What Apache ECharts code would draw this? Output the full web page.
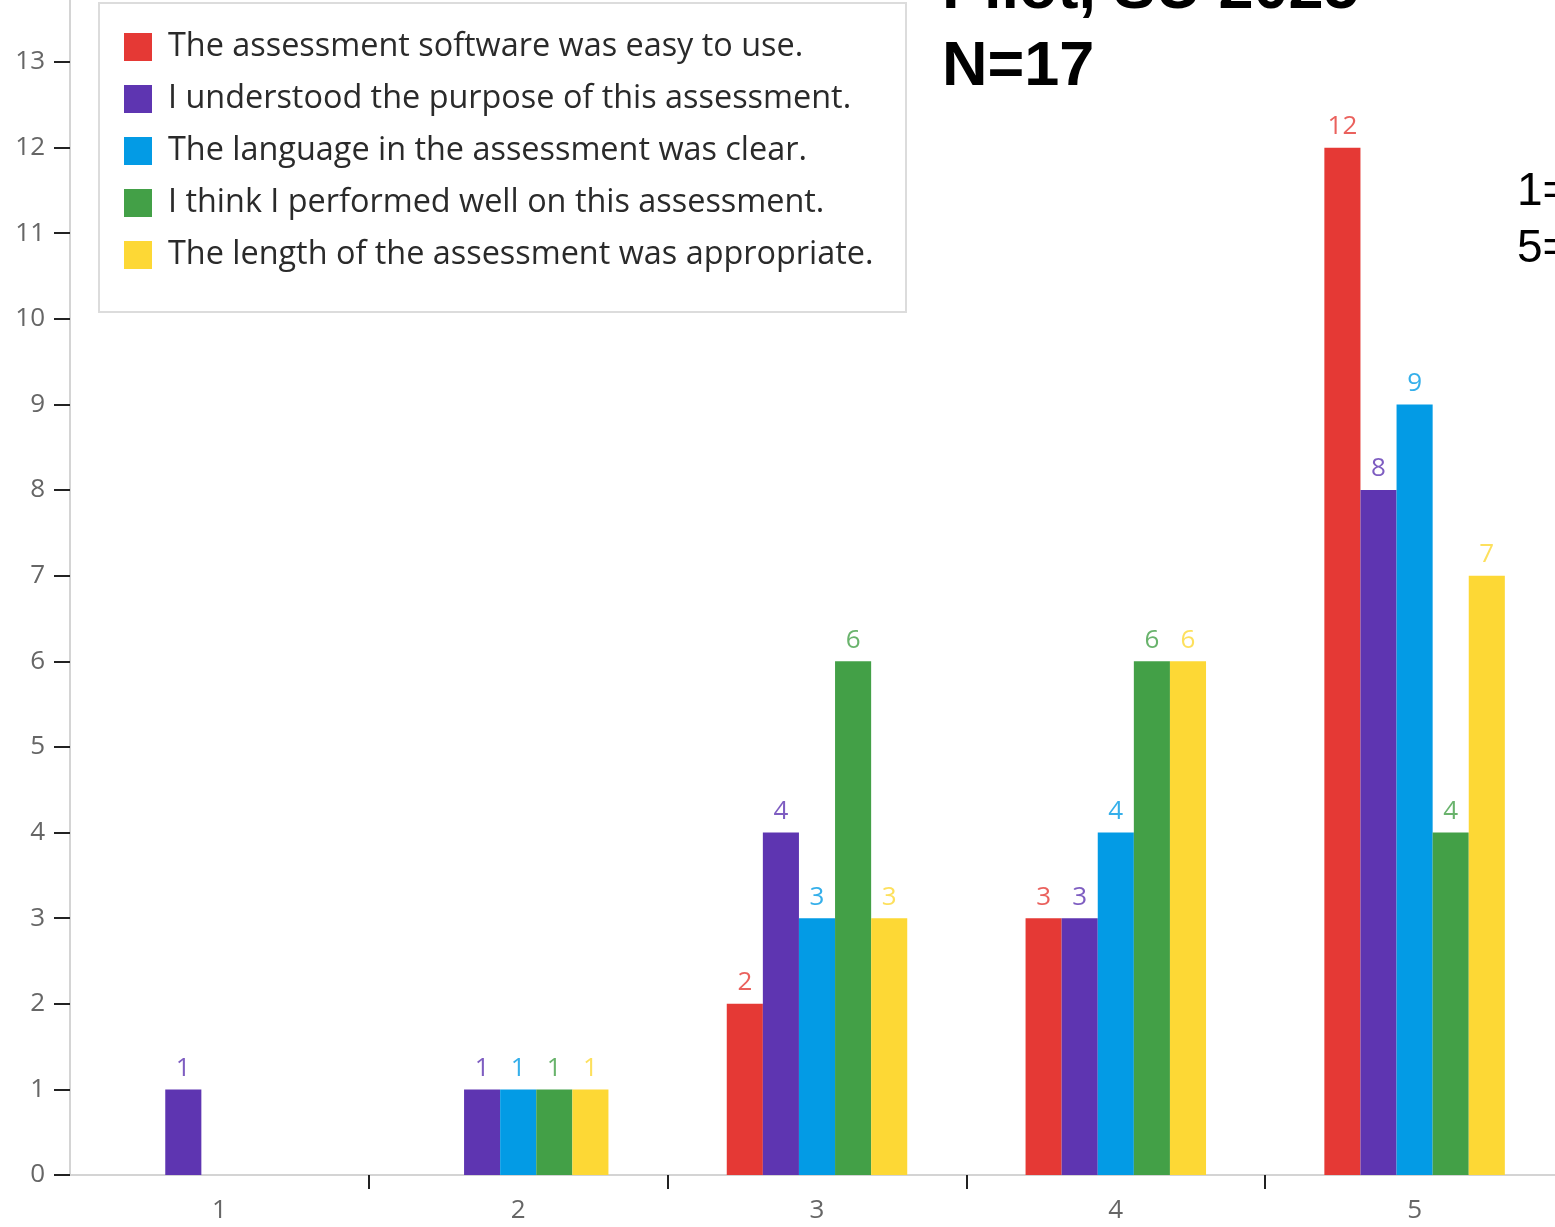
<!DOCTYPE html>
<html>
<head>
<meta charset="utf-8">
<script src="https://cdn.jsdelivr.net/npm/echarts@6/dist/echarts.min.js"></script>
<style>
html,body{margin:0;padding:0;background:#fff;}
#chart{width:1555px;height:1227px;}
</style>
</head>
<body>
<div id="chart"></div>
<script>
var categories = ['1', '2', '3', '4', '5'];
var seriesNames = [
  'The assessment software was easy to use.',
  'I understood the purpose of this assessment.',
  'The language in the assessment was clear.',
  'I think I performed well on this assessment.',
  'The length of the assessment was appropriate.'
];
var easyToUse = [0, 0, 2, 3, 12];
var understoodPurpose = [1, 1, 4, 3, 8];
var languageClear = [0, 1, 3, 4, 9];
var performedWell = [0, 1, 6, 6, 4];
var lengthAppropriate = [0, 1, 3, 6, 7];
var yTicks = [0,1,2,3,4,5,6,7,8,9,10,11,12,13];
var titleLines = ['Pilot, SU 2025', 'N=17'];
var scaleNote = ['1=', '5='];

var colors = ['#E53935', '#5E35B1', '#039BE5', '#43A047', '#FDD835'];
var allValues = [easyToUse, understoodPurpose, languageClear, performedWell, lengthAppropriate];
var font = '"Open Sans", "Noto Sans", sans-serif';

var series = allValues.map(function (vals, i) {
  return {
    name: seriesNames[i],
    type: 'bar',
    data: vals,
    barGap: '0%',
    barCategoryGap: '39.6%',
    itemStyle: { color: colors[i] },
    label: {
      show: true,
      position: 'top',
      distance: 8,
      color: colors[i],
      opacity: 0.8,
      fontFamily: font,
      fontSize: 26,
      formatter: function (p) { return p.value === 0 ? '' : String(p.value); }
    }
  };
});

var chart = echarts.init(document.getElementById('chart'), null, { renderer: 'canvas' });
chart.setOption({
  animation: false,
  backgroundColor: '#ffffff',
  color: colors,
  title: [
    {
      text: titleLines.join('\n'),
      left: 942,
      top: -48,
      textStyle: { fontFamily: '"Liberation Sans", Arial, sans-serif', fontWeight: 'bold', fontSize: 63, lineHeight: 77, color: '#000' },
      padding: 0
    },
    {
      text: scaleNote.join('\n'),
      left: 1517,
      top: 164,
      textStyle: { fontFamily: '"Liberation Sans", Arial, sans-serif', fontWeight: 'normal', fontSize: 46, lineHeight: 57, color: '#000' },
      padding: 0
    }
  ],
  graphic: [
    {
      type: 'rect',
      shape: { x: 99, y: 3, width: 807, height: 309 },
      style: { fill: '#fff', stroke: '#dcdcdc', lineWidth: 2 },
      z: 0
    }
  ],
  legend: {
    orient: 'vertical',
    left: 124,
    top: 31,
    padding: 0,
    itemWidth: 28,
    itemHeight: 28,
    itemGap: 20,
    icon: 'rect',
    selectedMode: false,
    data: seriesNames,
    textStyle: { fontFamily: font, fontSize: 32.4, lineHeight: 28, color: '#2a2a2a', padding: [0, 0, 0, 11] },
    z: 5
  },
  grid: { left: 70, width: 1494, top: -23.6, bottom: 52, containLabel: false, outerBoundsMode: 'none' },
  xAxis: {
    type: 'category',
    data: categories,
    axisLine: { show: true, lineStyle: { color: '#d4d4d4', width: 2 } },
    axisTick: {
      show: true, length: 14, lineStyle: { color: '#222', width: 2 },
      interval: function (index) { return index !== 0; }
    },
    axisLabel: { color: '#666', fontFamily: font, fontSize: 26, margin: 23 },
    splitLine: { show: false }
  },
  yAxis: {
    type: 'value',
    min: 0,
    max: 14,
    interval: 1,
    axisLine: { show: true, lineStyle: { color: '#d4d4d4', width: 2 } },
    axisTick: { show: true, length: 16, lineStyle: { color: '#222', width: 2 } },
    axisLabel: {
      color: '#666', fontFamily: font, fontSize: 26, margin: 25,
      formatter: function (v) { return yTicks.indexOf(v) >= 0 ? String(v) : ''; }
    },
    splitLine: { show: false }
  },
  series: series
});
</script>
</body>
</html>
